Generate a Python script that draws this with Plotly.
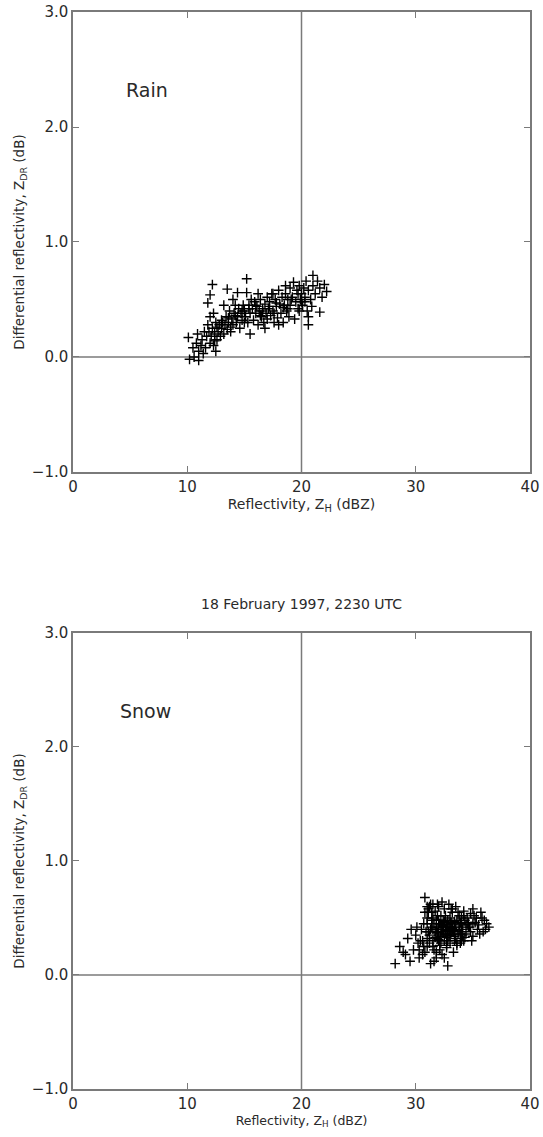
import plotly.graph_objects as go

# ---------------- data ----------------
rain_zh = [10.1, 10.2, 10.6, 11.0, 10.5, 10.8, 11.0, 10.9, 11.2, 11.3, 11.5, 11.4, 11.6,
           11.8, 12.0, 12.2, 11.8, 12.0, 12.1, 12.2, 12.3, 12.4, 12.5, 12.6, 12.7, 12.8, 12.9, 12.5, 12.0, 11.7, 12.3, 13.0, 13.0,
           13.2, 13.3, 13.4, 13.5, 13.5, 13.6, 13.7, 13.8, 13.9, 14.0, 14.1, 14.2, 14.3, 14.4, 14.4, 14.5, 14.6, 14.7, 14.8, 14.9, 15.0, 13.2, 14.0,
           15.2, 15.2, 15.1, 15.3, 15.4, 15.5, 15.6, 15.7, 15.8, 15.9, 16.0, 16.1, 16.2, 16.3, 16.4, 16.5, 16.6, 16.7, 16.8, 16.9, 17.0, 15.5, 16.2, 16.8, 17.0,
           17.1, 17.2, 17.3, 17.4, 17.5, 17.6, 17.7, 17.8, 17.9, 18.0, 18.1, 18.2, 18.3, 18.4, 18.5, 18.6, 18.7, 18.8, 18.9, 19.0, 17.5, 18.0, 18.6, 19.0,
           19.2, 19.3, 19.4, 19.5, 19.6, 19.7, 19.8, 19.9, 20.0, 20.1, 20.2, 20.3, 20.4, 20.5, 20.6, 20.6, 20.8, 21.0, 21.0, 21.2, 21.4, 21.6, 21.6, 21.8, 22.0, 22.2, 20.6, 19.8, 20.9,
           11.9, 12.6, 13.1, 13.6, 14.2, 14.8, 15.4, 16.0, 16.6, 17.2, 17.8, 18.4, 19.1, 19.7, 20.3, 12.4, 13.8, 15.0, 16.4, 17.6, 18.8, 20.0]
rain_zdr = [0.17, -0.02, 0.00, -0.03, 0.08, 0.12, 0.05, 0.20, 0.10, 0.15, 0.22, 0.03, 0.08,
            0.47, 0.54, 0.63, 0.28, 0.12, 0.18, 0.25, 0.10, 0.20, 0.30, 0.15, 0.22, 0.28, 0.18, 0.05, 0.35, 0.18, 0.38, 0.25, 0.32,
            0.20, 0.28, 0.35, 0.59, 0.24, 0.30, 0.40, 0.22, 0.33, 0.28, 0.38, 0.45, 0.30, 0.56, 0.35, 0.42, 0.25, 0.38, 0.32, 0.45, 0.40, 0.45, 0.50,
            0.68, 0.56, 0.35, 0.30, 0.45, 0.38, 0.50, 0.42, 0.32, 0.48, 0.38, 0.44, 0.28, 0.40, 0.50, 0.35, 0.42, 0.30, 0.46, 0.38, 0.52, 0.20, 0.55, 0.25, 0.33,
            0.42, 0.48, 0.36, 0.55, 0.40, 0.30, 0.50, 0.44, 0.34, 0.58, 0.46, 0.38, 0.52, 0.30, 0.45, 0.55, 0.40, 0.50, 0.35, 0.60, 0.55, 0.28, 0.62, 0.45,
            0.52, 0.65, 0.33, 0.48, 0.58, 0.42, 0.62, 0.50, 0.55, 0.45, 0.60, 0.52, 0.66, 0.40, 0.28, 0.58, 0.50, 0.71, 0.62, 0.55, 0.66, 0.39, 0.60, 0.52, 0.63, 0.57, 0.35, 0.40, 0.44,
            0.22, 0.26, 0.30, 0.34, 0.36, 0.40, 0.42, 0.45, 0.40, 0.44, 0.47, 0.43, 0.50, 0.55, 0.48, 0.14, 0.26, 0.30, 0.36, 0.38, 0.42, 0.48]

snow_zh = [28.2, 28.6, 29.3, 29.5, 29.8, 30.0, 30.2, 30.3, 30.5, 30.6, 30.8, 30.8, 31.0, 31.0, 31.1, 31.2, 31.3, 31.4, 31.5, 31.5,
           31.6, 31.7, 31.8, 31.8, 31.9, 32.0, 32.0, 32.1, 32.2, 32.2, 32.3, 32.4, 32.5, 32.5, 32.6, 32.7, 32.8, 32.8, 32.9, 33.0,
           33.0, 33.1, 33.2, 33.3, 33.4, 33.5, 33.5, 33.6, 33.7, 33.8, 33.9, 34.0, 34.1, 34.2, 34.3, 34.5, 34.6, 34.8, 35.0, 35.2,
           35.4, 35.7, 36.0, 36.2, 30.9, 31.2, 31.6, 32.0, 32.4, 32.8, 33.2, 33.6, 34.0, 34.4, 31.4, 31.8, 32.2, 32.6, 33.0, 33.4,
           33.8, 34.2, 30.4, 30.7, 31.1, 31.5, 31.9, 32.3, 32.7, 33.1, 33.5, 33.9, 34.3, 34.7, 35.1, 35.5, 30.6, 31.0, 31.4, 31.8,
           32.2, 32.6, 33.0, 33.4, 33.8, 34.2, 34.6, 31.2, 31.7, 32.1, 32.5, 32.9, 33.3, 33.7, 34.1, 34.5, 30.8, 31.3, 32.0, 32.7,
           33.4, 34.0, 34.8, 35.3, 35.8, 36.4, 29.6, 30.1, 31.0, 31.5, 32.4, 33.1, 33.6, 34.4, 35.0, 35.6, 31.1, 31.9, 32.5, 33.2,
           30.7, 32.3, 33.9, 34.9, 31.6, 32.8, 28.9, 29.1, 30.3, 36.1, 35.9, 31.0, 32.0, 33.0, 34.0, 35.0,
           31.5, 31.9, 32.3, 32.6, 32.9, 33.2, 31.7, 32.1, 32.4, 32.7, 33.0, 31.3, 32.0, 32.5, 33.3, 31.8, 32.2, 32.8]
snow_zdr = [0.10, 0.25, 0.32, 0.12, 0.22, 0.35, 0.28, 0.15, 0.40, 0.30, 0.68, 0.20, 0.45, 0.25, 0.55, 0.35, 0.10, 0.42, 0.30, 0.50,
            0.22, 0.38, 0.48, 0.15, 0.32, 0.60, 0.42, 0.26, 0.36, 0.52, 0.18, 0.44, 0.30, 0.58, 0.40, 0.24, 0.48, 0.35, 0.62, 0.28,
            0.45, 0.38, 0.55, 0.20, 0.42, 0.32, 0.60, 0.48, 0.36, 0.52, 0.28, 0.45, 0.40, 0.56, 0.33, 0.50, 0.42, 0.38, 0.58, 0.46,
            0.40, 0.55, 0.48, 0.45, 0.38, 0.28, 0.45, 0.35, 0.48, 0.30, 0.40, 0.26, 0.50, 0.36, 0.55, 0.20, 0.44, 0.52, 0.35, 0.47,
            0.42, 0.30, 0.30, 0.45, 0.38, 0.25, 0.52, 0.40, 0.33, 0.58, 0.44, 0.36, 0.48, 0.42, 0.52, 0.44, 0.18, 0.32, 0.48, 0.40,
            0.28, 0.36, 0.50, 0.30, 0.40, 0.52, 0.46, 0.60, 0.56, 0.22, 0.46, 0.42, 0.38, 0.55, 0.35, 0.44, 0.55, 0.62, 0.30, 0.26,
            0.34, 0.30, 0.54, 0.50, 0.50, 0.42, 0.40, 0.42, 0.50, 0.62, 0.38, 0.46, 0.28, 0.44, 0.45, 0.36, 0.58, 0.62, 0.15, 0.58,
            0.25, 0.64, 0.46, 0.30, 0.12, 0.08, 0.20, 0.18, 0.22, 0.40, 0.38, 0.60, 0.48, 0.42, 0.38, 0.34,
            0.40, 0.37, 0.43, 0.39, 0.35, 0.41, 0.33, 0.45, 0.38, 0.42, 0.36, 0.40, 0.31, 0.47, 0.39, 0.42, 0.34, 0.44]

x_ticks = [0, 10, 20, 30, 40]
y_ticks = [-1.0, 0.0, 1.0, 2.0, 3.0]
REF_ZH = 20
REF_ZDR = 0
panel_labels = ["Rain", "Snow"]
title_text = "18 February 1997, 2230 UTC"
x_title = "Reflectivity, Z<sub>H</sub> (dBZ)"
y_title = "Differential reflectivity, Z<sub>DR</sub> (dB)"

FONT = "DejaVu Sans"
AX = "#7a7a7a"
TXT = "#2a2a2a"

fig = go.Figure()
marker = dict(symbol="cross-thin", size=7, color="black", line=dict(width=1.4, color="black"))
fig.add_trace(go.Scatter(x=rain_zh, y=rain_zdr, mode="markers", marker=marker,
                         xaxis="x", yaxis="y", showlegend=False))
fig.add_trace(go.Scatter(x=snow_zh, y=snow_zdr, mode="markers", marker=marker,
                         xaxis="x2", yaxis="y2", showlegend=False))

def xax(domain_anchor, title_size):
    return dict(range=[0, 40], tickvals=x_ticks, ticks="inside", ticklen=6, tickcolor=AX,
                showline=True, linecolor=AX, linewidth=1.5, mirror="ticks", showgrid=False,
                zeroline=False, anchor=domain_anchor, automargin=False,
                tickfont=dict(family=FONT, size=15, color=TXT),
                title=dict(text=x_title, font=dict(family=FONT, size=title_size, color=TXT), standoff=1))

def yax(domain, anchor):
    return dict(range=[-1, 3], tickvals=y_ticks, tickformat=".1f", ticks="inside", ticklen=6,
                tickcolor=AX, showline=True, linecolor=AX, linewidth=1.5, mirror="ticks",
                showgrid=False, zeroline=False, domain=domain, anchor=anchor, automargin=False,
                tickfont=dict(family=FONT, size=15, color=TXT),
                title=dict(text=y_title, font=dict(family=FONT, size=13.5, color=TXT), standoff=4))

fig.update_layout(
    width=543, height=1137,
    margin=dict(l=73, r=13, t=12, b=48),
    paper_bgcolor="white", plot_bgcolor="white",
    xaxis=xax("y", 14),
    yaxis=yax([0.5729, 1.0], "x"),
    xaxis2=xax("y2", 12.5),
    yaxis2=yax([0.0, 0.4234], "x2"),
)

shapes = []
for xr, yr in [("x", "y"), ("x2", "y2")]:
    shapes.append(dict(type="line", xref=xr, yref=yr, x0=REF_ZH, x1=REF_ZH, y0=-1, y1=3,
                       line=dict(color=AX, width=1.5), layer="below"))
    shapes.append(dict(type="line", xref=xr, yref=yr, x0=0, x1=40, y0=REF_ZDR, y1=REF_ZDR,
                       line=dict(color=AX, width=1.5), layer="below"))
fig.update_layout(shapes=shapes)

fig.add_annotation(x=4.5, y=2.32, xref="x", yref="y", text=panel_labels[0], showarrow=False,
                   xanchor="left", font=dict(family=FONT, size=19, color=TXT))
fig.add_annotation(x=3.9, y=2.32, xref="x2", yref="y2", text=panel_labels[1], showarrow=False,
                   xanchor="left", font=dict(family=FONT, size=19, color=TXT))
fig.add_annotation(x=0.5, y=0.4234, xref="paper", yref="paper", yshift=29, text=title_text,
                   showarrow=False, font=dict(family=FONT, size=14, color=TXT))

fig.write_html("out.html", config={"displayModeBar": False},
               post_script="document.body.style.margin='0';document.body.style.overflow='hidden';")
